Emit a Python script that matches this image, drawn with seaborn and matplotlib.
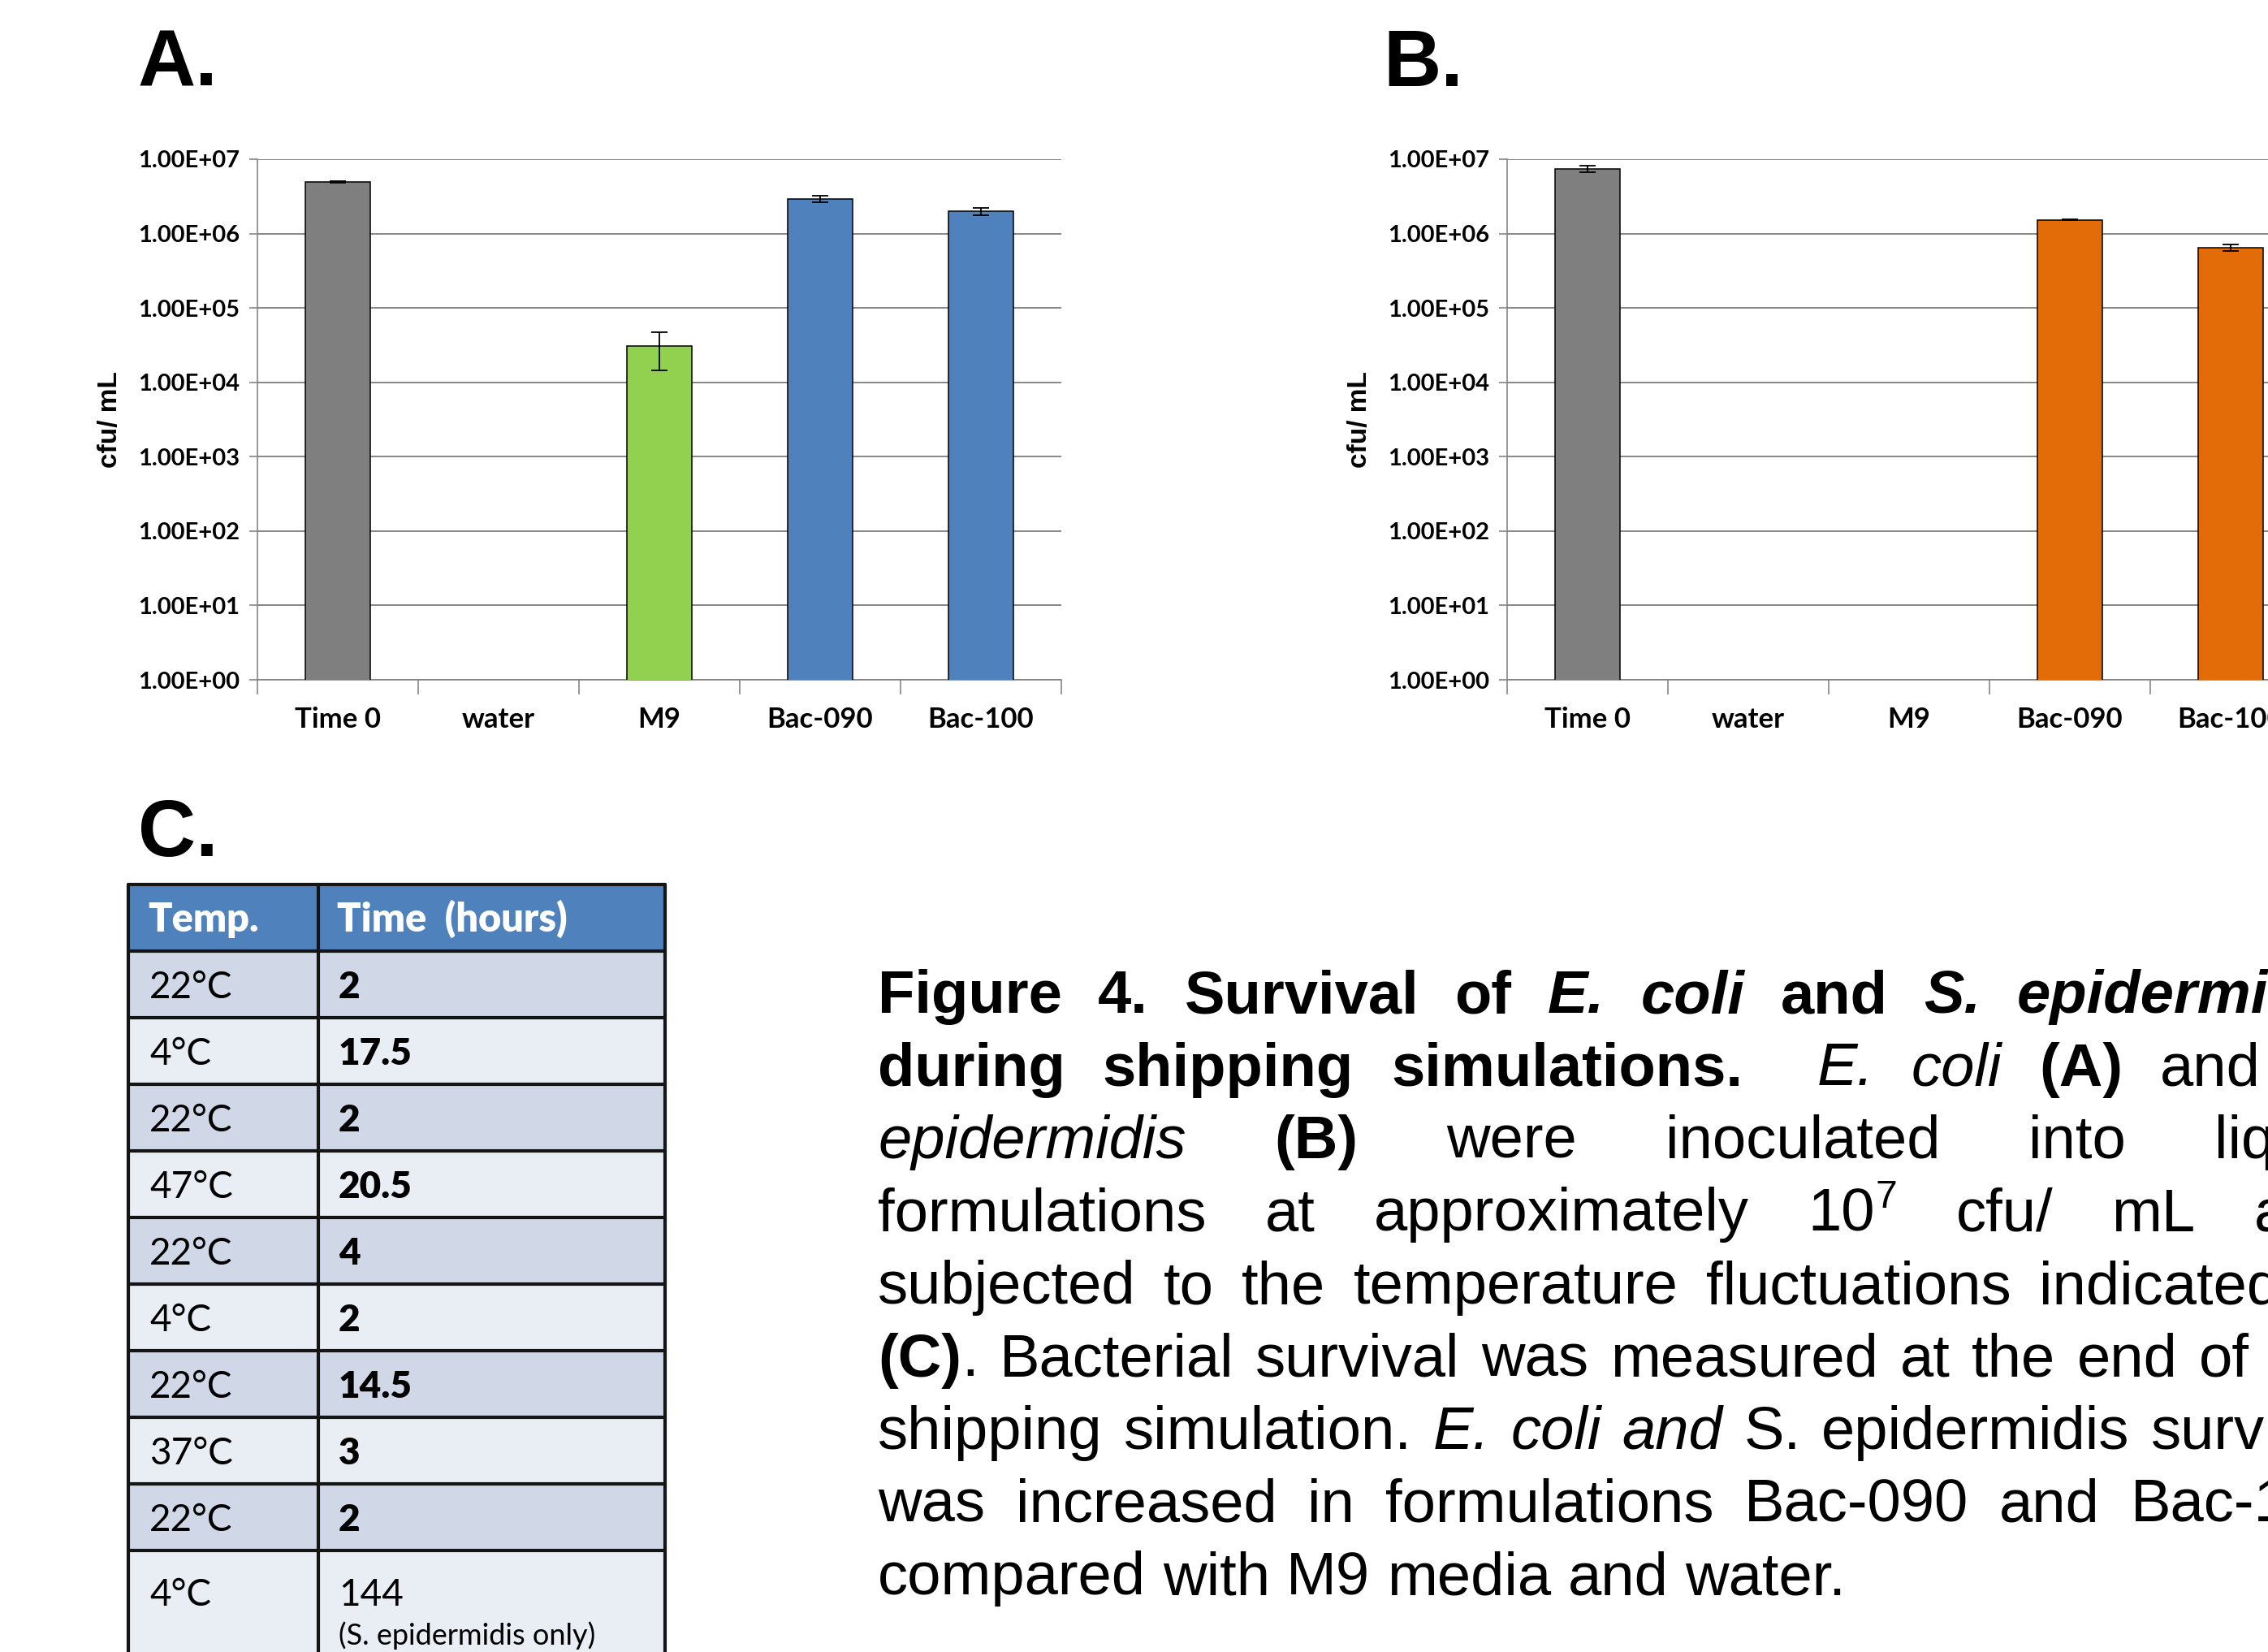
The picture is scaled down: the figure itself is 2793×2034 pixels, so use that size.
import numpy as np
import pandas as pd
import matplotlib
matplotlib.use("Agg")
import matplotlib.pyplot as plt
import seaborn as sns
from matplotlib.ticker import FuncFormatter, FixedLocator, NullLocator
from matplotlib.patches import Rectangle
from matplotlib.lines import Line2D

# ---------------- data ----------------
categories = ["Time 0", "water", "M9", "Bac-090", "Bac-100"]
ecoli_cfu = [4.9e6, np.nan, 3.1e4, 2.95e6, 2.0e6]
ecoli_err = [0.12e6, np.nan, 1.65e4, 0.28e6, 0.22e6]
sepi_cfu = [7.4e6, np.nan, np.nan, 1.53e6, 6.5e5]
sepi_err = [0.7e6, np.nan, np.nan, 0.03e6, 0.65e5]
ecoli_colors = ["#7F7F7F", "#7F7F7F", "#92D050", "#4F81BD", "#4F81BD"]
sepi_colors = ["#7F7F7F", "#7F7F7F", "#7F7F7F", "#E36C09", "#E36C09"]
y_ticks = [1e0, 1e1, 1e2, 1e3, 1e4, 1e5, 1e6, 1e7]
y_label = "cfu/ mL"

table_header = ["Temp.", "Time  (hours)"]
table_temps = ["22°C", "4°C", "22°C", "47°C", "22°C", "4°C", "22°C", "37°C", "22°C", "4°C"]
table_hours = ["2", "17.5", "2", "20.5", "4", "2", "14.5", "3", "2", "144"]
table_note = "(S. epidermidis only)"

caption_lines = [
    [[("Figure", "B")], [("4.", "B")], [("Survival", "B")], [("of", "B")], [("E.", "BI")],
     [("coli", "BI")], [("and", "B")], [("S.", "BI")], [("epidermidis", "BI")]],
    [[("during", "B")], [("shipping", "B")], [("simulations.", "B")], [], [("E.", "I")],
     [("coli", "I")], [("(A)", "B")], [("and", "R")], [("S.", "I")]],
    [[("epidermidis", "I")], [("(B)", "B")], [("were", "R")], [("inoculated", "R")],
     [("into", "R")], [("liquid", "R")]],
    [[("formulations", "R")], [("at", "R")], [("approximately", "R")], [("10", "R"), ("7", "SUP")],
     [("cfu/", "R")], [("mL", "R")], [("and", "R")]],
    [[("subjected", "R")], [("to", "R")], [("the", "R")], [("temperature", "R")],
     [("fluctuations", "R")], [("indicated", "R")], [("in", "R")]],
    [[("(C)", "B"), (".", "R")], [("Bacterial", "R")], [("survival", "R")], [("was", "R")],
     [("measured", "R")], [("at", "R")], [("the", "R")], [("end", "R")], [("of", "R")], [("the", "R")]],
    [[("shipping", "R")], [("simulation.", "R")], [("E.", "I")], [("coli", "I")], [("and", "I")],
     [("S.", "R")], [("epidermidis", "R")], [("survival", "R")]],
    [[("was", "R")], [("increased", "R")], [("in", "R")], [("formulations", "R")],
     [("Bac-090", "R")], [("and", "R")], [("Bac-100", "R")]],
    [[("compared", "R")], [("with", "R")], [("M9", "R")], [("media", "R")], [("and", "R")],
     [("water.", "R")]],
]

# ---------------- setup ----------------
sns.set_style("white")
plt.rcParams["font.family"] = ["Liberation Sans", "DejaVu Sans"]
plt.rcParams["text.color"] = "black"
plt.rcParams["axes.labelcolor"] = "black"
plt.rcParams["xtick.color"] = "black"
plt.rcParams["ytick.color"] = "black"
W, H = 2793, 2034
DPI = 100
fig = plt.figure(figsize=(W / DPI, H / DPI), dpi=DPI)
fig.patch.set_facecolor("white")

GRAY = "#868686"


def px_axes(left, top, width, height):
    return fig.add_axes([left / W, 1 - (top + height) / H, width / W, height / H])


def draw_panel(ax, values, errs, colors):
    df = pd.DataFrame({"cat": categories, "cfu": values})
    pal = dict(zip(categories, colors))
    sns.barplot(data=df, x="cat", y="cfu", hue="cat", order=categories, hue_order=categories,
                palette=pal, width=0.4, edgecolor="black", linewidth=1.1, legend=False,
                errorbar=None, saturation=1, ax=ax, zorder=3)
    ax.set_yscale("log")
    xs = np.arange(len(categories))
    ax.errorbar(xs, values, yerr=errs, fmt="none", ecolor="black", elinewidth=1.3,
                capsize=7, capthick=1.3, zorder=4)
    ax.set_ylim(1, 1e7)
    ax.set_xlim(-0.5, 4.5)
    ax.set_axisbelow(True)
    ax.yaxis.grid(True, color=GRAY, linewidth=1.4, zorder=0)
    ax.xaxis.grid(False)
    ax.yaxis.set_major_locator(FixedLocator(y_ticks))
    ax.yaxis.set_minor_locator(NullLocator())
    ax.yaxis.set_major_formatter(FuncFormatter(lambda v, p: f"{v:.2E}"))
    ax.set_xticks(np.arange(len(categories)))
    ax.set_xticklabels(categories)
    ax.set_xticks(np.arange(-0.5, len(categories), 1.0), minor=True)
    ax.tick_params(axis="y", which="major", length=7, width=1.2, color=GRAY,
                   labelsize=21, pad=9, left=True, labelcolor="black")
    ax.tick_params(axis="x", which="minor", length=13, width=1.2, color=GRAY, bottom=True)
    ax.tick_params(axis="x", which="major", length=0, pad=24, labelsize=25, labelcolor="black")
    for lbl in ax.get_xticklabels() + ax.get_yticklabels():
        lbl.set_fontfamily(["Lato", "DejaVu Sans"])
        lbl.set_fontweight("bold")
        lbl.set_color("black")
    for s in ["top", "right"]:
        ax.spines[s].set_visible(False)
    for s in ["left", "bottom"]:
        ax.spines[s].set_color(GRAY)
        ax.spines[s].set_linewidth(1.2)
    ax.set_xlabel("")
    ax.set_ylabel(y_label, fontsize=24, fontweight="bold", color="black",
                  family=["Liberation Sans", "DejaVu Sans"])
    ax.yaxis.set_label_coords(-0.168, 0.5)
    ax.patch.set_alpha(0)


# overlay for letters, table and caption
ov = fig.add_axes([0, 0, 1, 1])
ov.set_xlim(0, W)
ov.set_ylim(H, 0)
ov.axis("off")

axA = px_axes(317, 196, 990, 641)
draw_panel(axA, ecoli_cfu, ecoli_err, ecoli_colors)
axB = px_axes(1856, 196, 990, 641)
draw_panel(axB, sepi_cfu, sepi_err, sepi_colors)

# panel letters
for lx, ly, t in [(170, 106, "A."), (1703, 106, "B."), (170, 1054, "C.")]:
    ov.text(lx, ly, t, fontsize=71, fontweight="bold", va="baseline", ha="left", color="black",
            family=["Liberation Sans", "DejaVu Sans"])

# ---------------- table ----------------
tx = [158, 392, 819]
ty0 = 1089
rh = 82
header_col = "#4F81BD"
dark_row = "#D0D8E8"
light_row = "#E9EDF4"
n_rows = len(table_temps)
for i in range(n_rows + 1):
    y = ty0 + i * rh
    h = rh if i < n_rows else 200
    if i == 0:
        col = header_col
    else:
        col = dark_row if i % 2 == 1 else light_row
    ov.add_patch(Rectangle((tx[0], y), tx[2] - tx[0], h, facecolor=col, edgecolor="none", zorder=1))
BORDER = "#151515"
for i in range(n_rows + 1):
    y = ty0 + i * rh
    ov.add_line(Line2D([tx[0], tx[2]], [y, y], color=BORDER, linewidth=3.0, zorder=2))
for x in tx:
    ov.add_line(Line2D([x, x], [ty0, H + 50], color=BORDER, linewidth=3.0, zorder=2))

tfont = ["Lato", "DejaVu Sans"]
ov.text(tx[0] + 24, ty0 + 41 + 17, table_header[0], color="white", fontsize=35, fontweight="heavy",
        family=tfont, va="baseline", zorder=3)
ov.text(tx[1] + 23, ty0 + 41 + 17, table_header[1], color="white", fontsize=35, fontweight="heavy",
        family=tfont, va="baseline", zorder=3)
for i, (tp, hr) in enumerate(zip(table_temps, table_hours)):
    yc = ty0 + rh * (i + 1) + 41
    if i < n_rows - 1:
        ov.text(tx[0] + 26, yc + 17, tp, fontsize=33, family=tfont, va="baseline", zorder=3)
        ov.text(tx[1] + 25, yc + 17, hr, fontsize=33, fontweight="heavy", family=tfont,
                va="baseline", zorder=3)
    else:
        ov.text(tx[0] + 26, 1960 + 17, tp, fontsize=33, family=tfont, va="baseline", zorder=3)
        ov.text(tx[1] + 25, 1960 + 17, hr, fontsize=33, family=tfont, va="baseline", zorder=3)
        ov.text(tx[1] + 25, 2012 + 13, table_note, fontsize=26, family=tfont, va="baseline", zorder=3)

# ---------------- caption (justified) ----------------
cap_font = ["Liberation Sans", "DejaVu Sans"]
CAP_SIZE = 53.5
L_EDGE, R_EDGE = 1081, 2900
BASE0, LSTEP = 1247, 89.5
renderer = fig.canvas.get_renderer()


def seg_props(style):
    w = "bold" if "B" in style else "normal"
    s = "italic" if "I" in style else "normal"
    size = CAP_SIZE * 0.65 if style == "SUP" else CAP_SIZE
    return dict(fontweight=w, fontstyle=s, fontsize=size, family=cap_font, color="black")


def text_width(s, props):
    t = ov.text(0, 0, s, **props)
    wpx = t.get_window_extent(renderer).width
    t.remove()
    return wpx


space_w = text_width("a a", seg_props("R")) - text_width("aa", seg_props("R"))

for li, line in enumerate(caption_lines):
    base = BASE0 + li * LSTEP
    widths = []
    for word in line:
        widths.append(sum(text_width(s, seg_props(st)) for s, st in word))
    n_gaps = len(line) - 1
    if li < len(caption_lines) - 1:
        gap = (R_EDGE - L_EDGE - sum(widths)) / n_gaps
    else:
        gap = space_w
    x = L_EDGE
    for word, wd in zip(line, widths):
        xs = x
        for s, st in word:
            props = seg_props(st)
            dy = -CAP_SIZE * 100 / 72 * 0.38 if st == "SUP" else 0
            ov.text(xs, base + dy, s, va="baseline", ha="left", **props)
            xs += text_width(s, props)
        x += wd + gap

fig.savefig("out.png", dpi=DPI, facecolor="white")
